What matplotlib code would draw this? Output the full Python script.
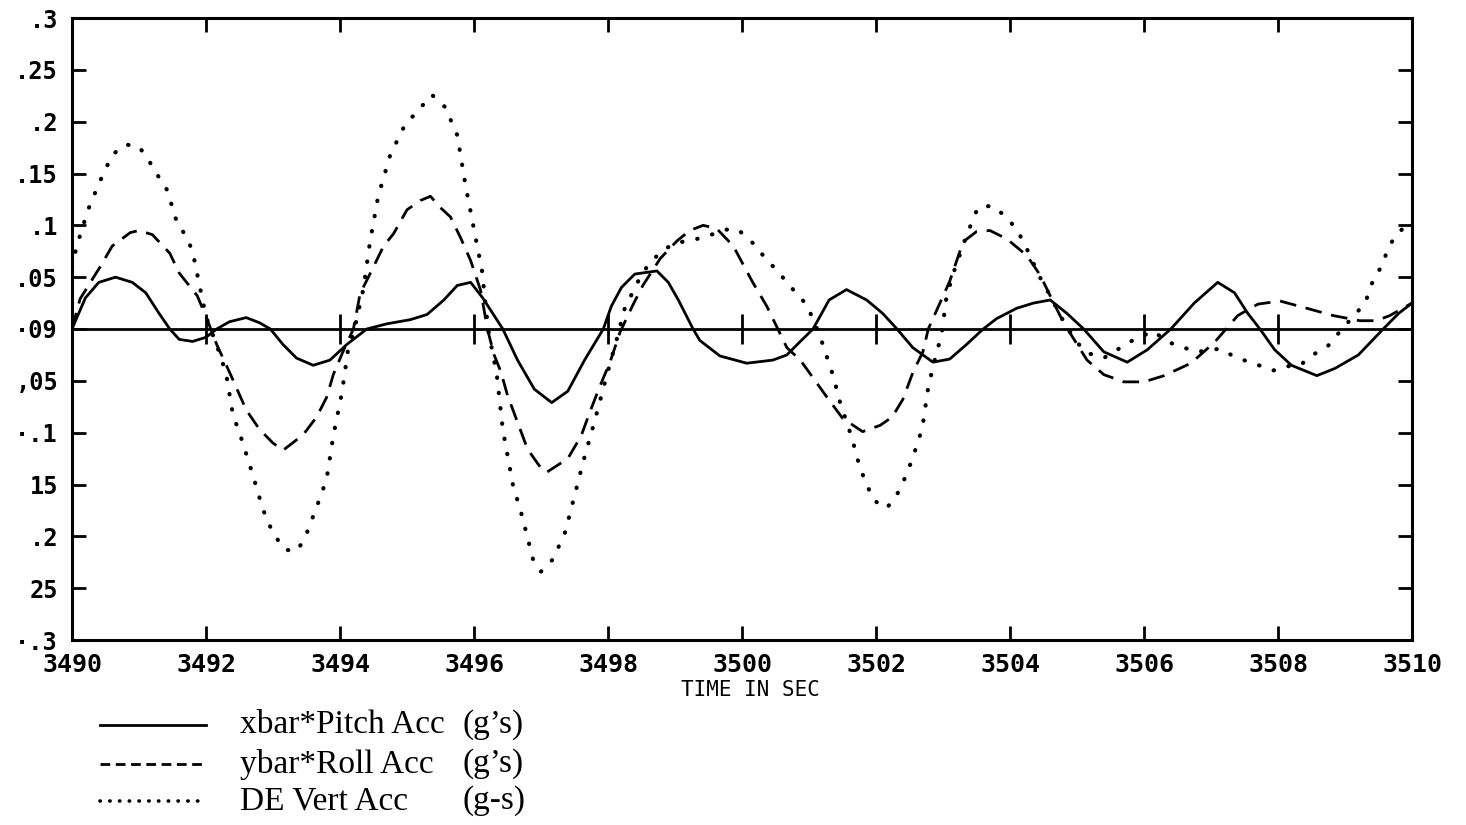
import matplotlib
matplotlib.use("Agg")
import matplotlib.pyplot as plt
from matplotlib.lines import Line2D

# ---------------- data ----------------
pitch_t = [3490.0, 3490.2, 3490.4, 3490.65, 3490.9, 3491.1, 3491.3, 3491.46, 3491.6, 3491.8,
           3492.0, 3492.16, 3492.35, 3492.6, 3492.8, 3492.96, 3493.15, 3493.35, 3493.6, 3493.85,
           3494.1, 3494.4, 3494.7, 3495.05, 3495.3, 3495.55, 3495.75, 3495.95, 3496.13, 3496.43,
           3496.65, 3496.9, 3497.16, 3497.4, 3497.65, 3497.93, 3498.05, 3498.2, 3498.4, 3498.73,
           3498.9, 3499.05, 3499.27, 3499.37, 3499.67, 3500.07, 3500.46, 3500.67, 3500.87, 3501.06,
           3501.3, 3501.56, 3501.86, 3502.1, 3502.3, 3502.55, 3502.85, 3503.1, 3503.35, 3503.6,
           3503.8, 3504.1, 3504.35, 3504.6, 3504.85, 3505.1, 3505.4, 3505.75, 3506.05, 3506.4,
           3506.75, 3507.1, 3507.35, 3507.55, 3507.73, 3507.95, 3508.2, 3508.58, 3508.85, 3509.2,
           3509.57, 3509.8, 3510.0]
pitch_v = [0.0, 0.03, 0.045, 0.05, 0.045, 0.035, 0.015, 0.0, -0.01, -0.012,
           -0.008, 0.0, 0.007, 0.011, 0.006, 0.0, -0.015, -0.028, -0.035, -0.03,
           -0.015, 0.0, 0.005, 0.009, 0.014, 0.028, 0.042, 0.045, 0.03, 0.0,
           -0.03, -0.058, -0.071, -0.06, -0.03, 0.0, 0.022, 0.04, 0.053, 0.056,
           0.045, 0.028, 0.0, -0.011, -0.026, -0.033, -0.03, -0.025, -0.012, 0.0,
           0.028, 0.038, 0.028, 0.015, 0.001, -0.018, -0.032, -0.029, -0.015, 0.0,
           0.01, 0.02, 0.025, 0.028, 0.015, 0.0, -0.022, -0.032, -0.02, 0.0,
           0.025, 0.045, 0.035, 0.015, 0.0, -0.02, -0.035, -0.045, -0.038, -0.025,
           0.0, 0.015, 0.025]

roll_t = [3490.0, 3490.12, 3490.42, 3490.6, 3490.87, 3491.0, 3491.2, 3491.46, 3491.6, 3491.87,
          3492.0, 3492.16, 3492.36, 3492.6, 3492.8, 3493.0, 3493.15, 3493.45, 3493.65, 3493.8,
          3493.9, 3494.05, 3494.2, 3494.3, 3494.5, 3494.65, 3494.8, 3495.0, 3495.2, 3495.35,
          3495.5, 3495.65, 3495.8, 3495.95, 3496.1, 3496.2, 3496.3, 3496.4, 3496.5, 3496.65,
          3496.8, 3497.03, 3497.09, 3497.4, 3497.6, 3497.73, 3497.88, 3498.03, 3498.18, 3498.37,
          3498.52, 3498.78, 3499.03, 3499.22, 3499.42, 3499.62, 3499.87, 3500.16, 3500.37, 3500.52,
          3500.67, 3500.87, 3501.06, 3501.27, 3501.5, 3501.8, 3502.06, 3502.24, 3502.4, 3502.55,
          3502.7, 3502.78, 3503.1, 3503.3, 3503.5, 3503.7, 3503.95, 3504.25, 3504.45, 3504.6,
          3504.8, 3505.15, 3505.4, 3505.7, 3506.0, 3506.3, 3506.7, 3507.05, 3507.4, 3507.7,
          3508.03, 3508.43, 3508.82, 3509.22, 3509.47, 3509.67, 3510.0]
roll_v = [0.0, 0.029, 0.06, 0.08, 0.093, 0.095, 0.091, 0.073, 0.054, 0.032,
          0.012, -0.015, -0.043, -0.078, -0.097, -0.11, -0.117, -0.102, -0.085, -0.066,
          -0.044, -0.021, 0.0, 0.034, 0.06, 0.08, 0.092, 0.115, 0.124, 0.128,
          0.117, 0.108, 0.088, 0.066, 0.037, 0.0, -0.025, -0.041, -0.064, -0.09,
          -0.116, -0.137, -0.138, -0.125, -0.103, -0.08, -0.055, -0.032, -0.003, 0.023,
          0.042, 0.068, 0.085, 0.095, 0.1, 0.097, 0.08, 0.045, 0.022, 0.002,
          -0.018, -0.03, -0.047, -0.066, -0.086, -0.099, -0.093, -0.085, -0.068, -0.042,
          -0.022, 0.0, 0.046, 0.084, 0.094, 0.095, 0.087, 0.071, 0.052, 0.032,
          0.006, -0.03, -0.044, -0.051, -0.051, -0.045, -0.033, -0.013, 0.013, 0.024,
          0.027, 0.02, 0.013, 0.008, 0.008, 0.013, 0.025]

vert_t = [3490.0, 3490.07, 3490.24, 3490.4, 3490.6, 3490.8, 3491.0, 3491.16, 3491.3, 3491.42,
          3491.57, 3491.7, 3491.8, 3491.9, 3492.0, 3492.2, 3492.3, 3492.4, 3492.54, 3492.7,
          3492.85, 3493.0, 3493.18, 3493.36, 3493.48, 3493.65, 3493.8, 3493.9, 3494.03, 3494.12,
          3494.2, 3494.35, 3494.45, 3494.57, 3494.75, 3494.97, 3495.17, 3495.37, 3495.57, 3495.75,
          3495.87, 3496.0, 3496.12, 3496.21, 3496.34, 3496.43, 3496.58, 3496.72, 3496.88, 3497.0,
          3497.18, 3497.36, 3497.5, 3497.63, 3497.8, 3497.96, 3498.13, 3498.25, 3498.45, 3498.6,
          3498.8, 3499.0, 3499.2, 3499.4, 3499.78, 3499.94, 3500.16, 3500.34, 3500.54, 3500.75,
          3500.97, 3501.16, 3501.36, 3501.46, 3501.64, 3501.76, 3501.96, 3502.16, 3502.36, 3502.54,
          3502.69, 3502.78, 3502.88, 3502.98, 3503.05, 3503.15, 3503.35, 3503.52, 3503.73, 3503.95,
          3504.12, 3504.3, 3504.42, 3504.55, 3504.75, 3504.97, 3505.15, 3505.4, 3505.6, 3505.8,
          3506.14, 3506.34, 3506.54, 3506.8, 3507.13, 3507.33, 3507.53, 3507.76, 3507.93, 3508.13,
          3508.33, 3508.52, 3508.75, 3508.93, 3509.3, 3509.42, 3509.55, 3509.64, 3509.75, 3510.0]
vert_v = [0.06, 0.08, 0.115, 0.14, 0.168, 0.178, 0.176, 0.161, 0.146, 0.134,
          0.102, 0.09, 0.075, 0.043, 0.012, -0.023, -0.043, -0.082, -0.108, -0.141,
          -0.174, -0.197, -0.213, -0.214, -0.201, -0.172, -0.145, -0.103, -0.061, -0.02,
          -0.005, 0.039, 0.085, 0.128, 0.168, 0.197, 0.211, 0.226, 0.214, 0.187,
          0.14, 0.096, 0.056, 0.0, -0.044, -0.097, -0.15, -0.181, -0.222, -0.234,
          -0.222, -0.196, -0.161, -0.128, -0.089, -0.05, -0.01, 0.02, 0.046, 0.062,
          0.075, 0.083, 0.085, 0.088, 0.096, 0.096, 0.083, 0.069, 0.055, 0.039,
          0.023, -0.006, -0.045, -0.07, -0.105, -0.134, -0.165, -0.173, -0.155, -0.126,
          -0.096, -0.056, -0.029, -0.005, 0.03, 0.053, 0.09, 0.117, 0.119, 0.108,
          0.094, 0.071, 0.053, 0.038, 0.013, -0.011, -0.023, -0.028, -0.02, -0.012,
          -0.002, -0.012, -0.017, -0.022, -0.019, -0.026, -0.031, -0.036, -0.04, -0.036,
          -0.035, -0.025, -0.016, -0.002, 0.025, 0.047, 0.061, 0.077, 0.09, 0.105]

x_ticks = [3490, 3492, 3494, 3496, 3498, 3500, 3502, 3504, 3506, 3508, 3510]
x_tick_labels = ["3490", "3492", "3494", "3496", "3498", "3500", "3502", "3504", "3506", "3508", "3510"]
y_ticks = [0.3, 0.25, 0.2, 0.15, 0.1, 0.05, 0.0, -0.05, -0.1, -0.15, -0.2, -0.25, -0.3]
y_tick_labels = [".3", ".25", ".2", ".15", ".1", ".05", "·09", ",05", "·.1", "15", ".2", "25", "·.3"]

legend_labels = ["xbar*Pitch Acc", "ybar*Roll Acc", "DE Vert Acc"]
legend_units = ["(g\u2019s)", "(g\u2019s)", "(g-s)"]
x_label = "TIME IN SEC"

# ---------------- figure ----------------
W, H = 1466, 825
fig = plt.figure(figsize=(W / 100, H / 100), dpi=100)
fig.patch.set_facecolor("white")

def fx(px):
    return px / W

def fy(py):
    return 1 - py / H

ax = fig.add_axes([fx(72), fy(640), fx(1412) - fx(72), fy(18) - fy(640)])
ax.set_xlim(3490, 3510)
ax.set_ylim(-0.3, 0.3)

lw = 2.0
ax.plot(pitch_t, pitch_v, color="black", lw=lw, solid_joinstyle="round")
ax.plot(roll_t, roll_v, color="black", lw=lw, linestyle=(0, (6, 3.5)))
ax.plot(vert_t, vert_v, color="black", lw=3.0, linestyle=(0, (0.1, 3.6)),
        dash_capstyle="round")

# zero line with crosses at ticks
ax.axhline(0, color="black", lw=2.0)
ax.plot(x_ticks[1:-1], [0] * (len(x_ticks) - 2), linestyle="none", marker="|",
        markersize=22, markeredgewidth=2.0, color="black")

for s in ax.spines.values():
    s.set_linewidth(2.2)

mono = "DejaVu Sans Mono"
ax.set_xticks(x_ticks)
ax.set_xticklabels(x_tick_labels, fontfamily=mono, fontsize=18, fontweight="bold")
ax.set_yticks(y_ticks)
ax.set_yticklabels(y_tick_labels, fontfamily=mono, fontsize=17, fontweight="bold")
ax.tick_params(axis="both", direction="in", length=10, width=2.0,
               top=True, right=True, labeltop=False, labelright=False)
ax.tick_params(axis="x", pad=9)
ax.tick_params(axis="y", pad=10)

fig.text(fx(750), fy(690), x_label, fontfamily=mono, fontsize=15,
         ha="center", va="center")

# legend drawn manually
rows = [725, 764, 801]
styles = [dict(lw=2.0, linestyle="-"),
          dict(lw=2.0, linestyle=(0, (3.5, 2.0))),
          dict(lw=2.6, linestyle=(0, (0.1, 2.6)), dash_capstyle="round")]
for py, st, lab, unit in zip(rows, styles, legend_labels, legend_units):
    fig.add_artist(Line2D([fx(100), fx(206)], [fy(py), fy(py)], color="black",
                          transform=fig.transFigure, **st))
    fig.text(fx(240), fy(py), lab, fontfamily="Liberation Serif", fontsize=24,
             ha="left", va="center")
    fig.text(fx(463), fy(py), unit, fontfamily="Liberation Serif", fontsize=24,
             ha="left", va="center")

fig.savefig("out.png", dpi=100, facecolor="white")
